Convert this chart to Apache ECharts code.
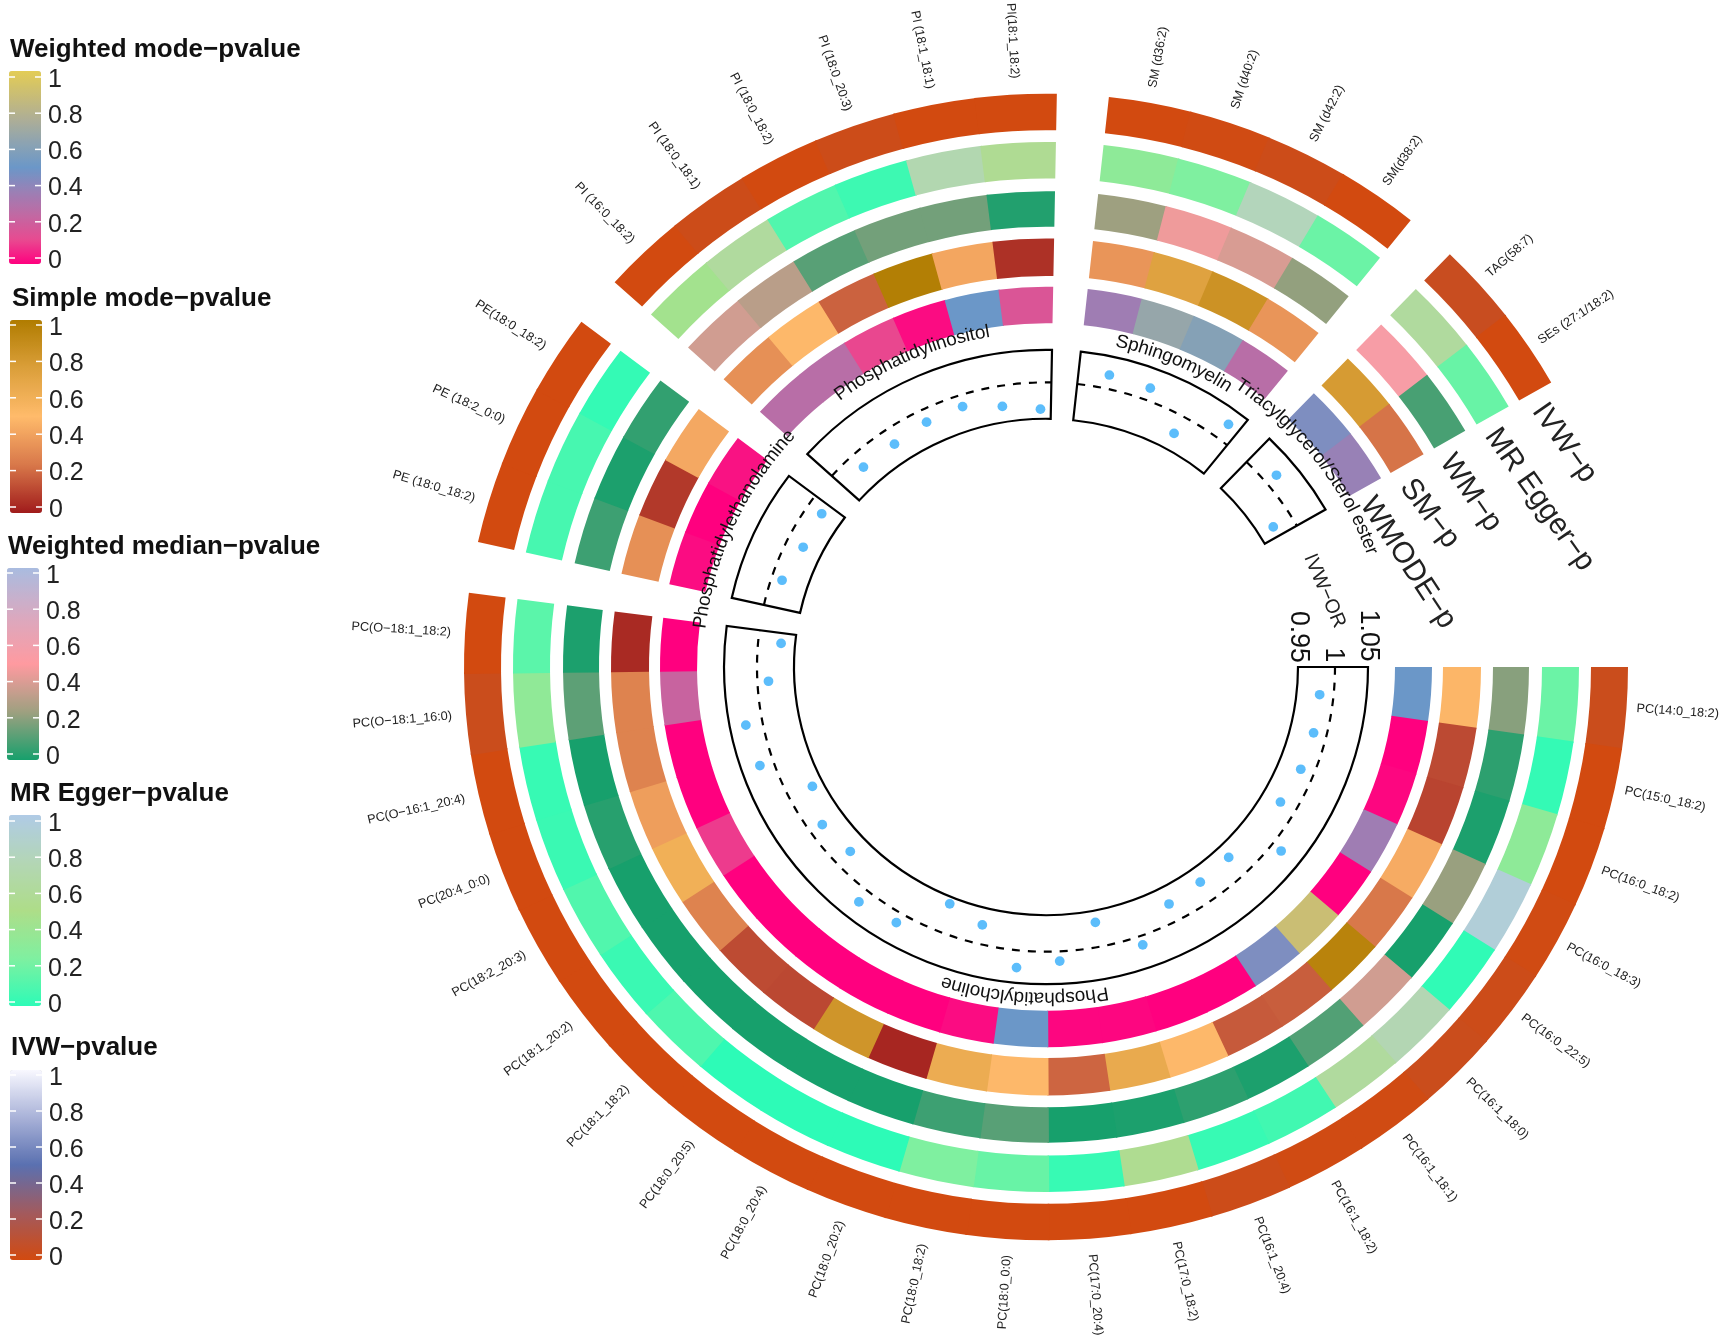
<!DOCTYPE html>
<html><head><meta charset="utf-8">
<style>html,body{margin:0;padding:0;background:#fff}#c{width:1725px;height:1337px}</style>
<script src="https://cdn.jsdelivr.net/npm/echarts@6/dist/echarts.min.js"></script>
</head><body><div id="c"></div>
<script>
// ---------- data ----------
const sectorNames = ['Phosphatidylcholine','Phosphatidylethanolamine','Phosphatidylinositol','Sphingomyelin','Triacylglycerol/Sterol ester'];
const pcLabels = ['PC(14:0_18:2)','PC(15:0_18:2)','PC(16:0_18:2)','PC(16:0_18:3)','PC(16:0_22:5)','PC(16:1_18:0)','PC(16:1_18:1)','PC(16:1_18:2)','PC(16:1_20:4)','PC(17:0_18:2)','PC(17:0_20:4)','PC(18:0_0:0)','PC(18:0_18:2)','PC(18:0_20:2)','PC(18:0_20:4)','PC(18:0_20:5)','PC(18:1_18:2)','PC(18:1_20:2)','PC(18:2_20:3)','PC(20:4_0:0)','PC(O\u221216:1_20:4)','PC(O\u221218:1_16:0)','PC(O\u221218:1_18:2)'];
const peLabels = ['PE (18:0_18:2)','PE (18:2_0:0)','PE(18:0_18:2)'];
const piLabels = ['PI (16:0_18:2)','PI (18:0_18:1)','PI (18:0_18:2)','PI (18:0_20:3)','PI (18:1_18:1)','PI(18:1_18:2)'];
const smLabels = ['SM (d36:2)','SM (d40:2)','SM (d42:2)','SM(d38:2)'];
const tagLabels = ['TAG(58:7)','SEs (27:1/18:2)'];
const wmodeP = [.5,0,.01,.36,0,.88,.45,0,0,.01,.01,.5,.02,0,0,0,0,0,.1,0,0,.23,0, .02,0,.03, .28,.28,.12,.02,.5,.17, .36,.66,.6,.28, .45,.38];
const smP = [.48,.125,.11,.44,.25,.95,.18,.17,.49,.65,.2,.49,.63,.03,.82,.12,.13,.29,.6,.39,.29,.29,.04, .34,.08,.43, .34,.49,.19,.98,.42,.06, .36,.72,.84,.36, .78,.24];
const wmP = [.21,.04,.01,.24,0,.38,.11,.01,.04,.01,0,.12,.07,0,0,0,0,0,0,.03,0,.13,.01, .07,.01,.05, .38,.32,.12,.17,.17,.02, .25,.46,.4,.23, .55,.09];
const eggerP = [.19,.02,.33,.93,.01,.74,.62,.06,.03,.55,.03,.18,.25,0,0,0,.1,.04,.11,.04,.03,.34,.14, .08,.08,.02, .44,.62,.11,.05,.72,.56, .33,.25,.78,.19, .62,.18];
const ivwP = [.04,0,0,.01,.03,.04,.01,.01,.03,0,0,0,0,0,0,0,0,0,0,0,0,.04,0, 0,0,0, 0,.03,0,.03,0,0, 0,.01,.03,0, .05,0];
const ivwOR = [.983,.984,.983,.978,1.019,.970,.972,.976,1.016,.967,1.017,1.028,.975,.960,1.018,1.023,.977,.983,.966,1.023,1.027,.987,.970, .9875,.978,.98, .98,.979,.984,.986,.973,.964, 1.023,1.021,.975,1.028, 1.021,.973];
const orTicks = [0.95,1,1.05];
const trackNames = ['IVW\u2212p','MR Egger\u2212p','WM\u2212p','SM\u2212p','WMODE\u2212p','IVW\u2212OR'];
const legendTitles = ['Weighted mode\u2212pvalue','Simple mode\u2212pvalue','Weighted median\u2212pvalue','MR Egger\u2212pvalue','IVW\u2212pvalue'];
const legendTicks = [0,0.2,0.4,0.6,0.8,1];

// ---------- layout and style ----------
const CX = 1046, CY = 667, SQUASH = 0.985;
const CELL_DEG = 8.15, GAP = 0.63, MAX_POS = 360 / CELL_DEG;
const groups = [pcLabels, peLabels, piLabels, smLabels, tagLabels];
const ringEdges = [[349,386],[397,435],[447,483],[496,533],[545,582]];
const ringValues = [wmodeP, smP, wmP, eggerP, ivwP];
const ramps = [
  ['#ff007f','#e84a90','#c268a2','#9a80b5','#6b97c8','#8ca3b2','#aeae96','#c9bd75','#e3cc55'],
  ['#a01b1b','#d8784a','#ffbb6b','#db9f3a','#b07c00'],
  ['#17a06c','#9ea080','#ff9aa0','#d9a9c0','#a9bce0'],
  ['#2dfbb7','#7ff0a0','#aedd88','#b3d6b5','#b0cbe6'],
  ['#d24a10','#a25a5e','#5a70b0','#a9b2d8','#f8f8ff']
];
// x, bar top, bar bottom, y of tick 1, y of tick 0, title x, title y
const legendBoxes = [
  [9,71,264,77,258,10,48],
  [10,320,513,325,507,12,297],
  [7,568,760,573,754,8,545],
  [9,815,1006,821,1002,10,792],
  [10,1070,1260,1075,1255,11,1046]
];
const BAR_W = 32;
const FONT = '"Liberation Sans", Arial, sans-serif';

// cell start positions in units of one cell
const positions = [], sectorSpans = [];
let cursor = 0;
groups.forEach(g => {
  const s = cursor;
  g.forEach(() => { positions.push(cursor); cursor += 1; });
  sectorSpans.push([s, cursor]);
  cursor += GAP;
});
const allLabels = groups.flat();

function wrap(children) {
  return {type:'group', originX:CX, originY:CY, scaleY:SQUASH, children};
}
function angleOf(pt) { return Math.atan2(pt[1]-CY, pt[0]-CX); }
function radiusOf(pt) { return Math.hypot(pt[0]-CX, pt[1]-CY); }
function sweep(a0, a1) { while (a1 <= a0) a1 += 2*Math.PI; return [a0, a1]; }
const spanEnds = new Set(sectorSpans.map(s => s[1]));

const series = [];
ringValues.forEach((vals, k) => {
  const [r0, r1] = ringEdges[k];
  series.push({
    type:'custom', coordinateSystem:'polar', polarIndex:0, silent:true,
    data: vals.map((p,i) => [r1, positions[i], p]),
    renderItem(params, api) {
      const pos = api.value(1);
      const color = api.visual('color');
      const [a0,a1] = sweep(angleOf(api.coord([r1,pos])), angleOf(api.coord([r1,pos+1])));
      // a hair of overlap hides the seam between neighbouring cells
      const over = spanEnds.has(pos+1) ? 0 : 0.003;
      return wrap([{type:'sector',
        shape:{cx:CX,cy:CY,r0,r:r1,startAngle:a0,endAngle:a1+over,clockwise:true},
        style:{fill:color}}]);
    }
  });
});

// IVW-OR track frames and the dashed line at OR = 1
series.push({
  type:'custom', coordinateSystem:'polar', polarIndex:1, silent:true,
  data: sectorSpans.map(s => [1, s[0], s[1]]),
  renderItem(params, api) {
    const s = api.value(1), e = api.value(2);
    const [a0,a1] = sweep(angleOf(api.coord([1,s])), angleOf(api.coord([1,e])));
    const rLow = radiusOf(api.coord([orTicks[0],s]));
    const rHigh = radiusOf(api.coord([orTicks[2],s]));
    const rOne = radiusOf(api.coord([api.value(0),s]));
    return wrap([
      {type:'sector',shape:{cx:CX,cy:CY,r0:rLow,r:rHigh,startAngle:a0,endAngle:a1,clockwise:true},
       style:{fill:'none',stroke:'#000',lineWidth:2.2}},
      {type:'arc',shape:{cx:CX,cy:CY,r:rOne+2,startAngle:a0,endAngle:a1,clockwise:true},
       style:{fill:'none',stroke:'#000',lineWidth:2.2,lineDash:[8,8]}}
    ]);
  }
});

// IVW-OR points
series.push({
  type:'custom', coordinateSystem:'polar', polarIndex:1, silent:true,
  data: ivwOR.map((v,i) => [v, positions[i]+0.72]),
  renderItem(params, api) {
    const pt = api.coord([api.value(0), api.value(1)]);
    return wrap([{type:'circle',shape:{cx:pt[0],cy:pt[1],r:4.9},style:{fill:'#5cbdfb'}}]);
  }
});

// cell labels
series.push({
  type:'custom', coordinateSystem:'polar', polarIndex:0, silent:true,
  data: allLabels.map((t,i) => [589, positions[i]+0.5]),
  renderItem(params, api) {
    const pt0 = api.coord([api.value(0), api.value(1)]);
    const th = angleOf(pt0), right = Math.cos(th) >= 0;
    const extra = 3 + 6*Math.sin(th)*Math.sin(th) + 4*Math.max(0,-Math.cos(th));
    const pt = api.coord([api.value(0)+extra, api.value(1)]);
    return wrap([{type:'text',x:pt[0],y:pt[1],rotation: right ? -th : Math.PI-th,
      style:{text:allLabels[params.dataIndex],font:'12.7px '+FONT,fill:'#222',
        align:right?'left':'right',verticalAlign:'middle'}}]);
  }
});

// sector names, set letter by letter along the arc
const measure = document.createElement('canvas').getContext('2d');
const NAME_FONT = '19px '+FONT;
measure.font = NAME_FONT;
const nameRadius = [336,348,345,338,346];
series.push({
  type:'custom', coordinateSystem:'polar', polarIndex:0, silent:true,
  data: sectorSpans.map((s,i) => [nameRadius[i], (s[0]+s[1])/2]),
  renderItem(params, api) {
    const pt = api.coord([api.value(0), api.value(1)]);
    const r = radiusOf(pt), mid = angleOf(pt), name = sectorNames[params.dataIndex];
    const widths = [...name].map(c => measure.measureText(c).width);
    const total = widths.reduce((a,b)=>a+b,0);
    let run = 0;
    const kids = [...name].map((c,i) => {
      const th = mid + (run + widths[i]/2 - total/2)/r;
      run += widths[i];
      return {type:'text',x:CX+r*Math.cos(th),y:CY+r*Math.sin(th),rotation:-(th+Math.PI/2),
        style:{text:c,font:NAME_FONT,fill:'#111',align:'center',verticalAlign:'middle'}};
    });
    return wrap(kids);
  }
});

// track names: radius, angle (deg), rotation (deg), size
const trackPlace = [[566,336.3,55,30],[522,341,55,30],[460,337.4,56,30],[414,337.9,53,30],[377,343.7,57,30],[289,344.5,67,20]];
series.push({
  type:'custom', coordinateSystem:'polar', polarIndex:0, silent:true,
  data: trackPlace.map(p => [p[0], p[1]/CELL_DEG]),
  renderItem(params, api) {
    const pt = api.coord([api.value(0), api.value(1)]);
    const p = trackPlace[params.dataIndex];
    return wrap([{type:'text',x:pt[0],y:pt[1],rotation:-p[2]*Math.PI/180,
      style:{text:trackNames[params.dataIndex],font:p[3]+'px '+FONT,fill:'#222',align:'center',verticalAlign:'middle'}}]);
  }
});

// OR axis tick labels
series.push({
  type:'custom', coordinateSystem:'polar', polarIndex:1, silent:true,
  data: orTicks.map(v => [v, MAX_POS-0.12]),
  renderItem(params, api) {
    const pt = api.coord([api.value(0), api.value(1)]);
    return wrap([{type:'text',x:pt[0],y:pt[1],rotation:-Math.PI/2,
      style:{text:String(orTicks[params.dataIndex]),font:'27px '+FONT,fill:'#111',align:'right',verticalAlign:'middle'}}]);
  }
});

// legends
const graphics = [];
legendBoxes.forEach((b,k) => {
  const [x,top,bottom,t1,t0,tx,ty] = b;
  graphics.push({type:'text',left:tx,top:ty-11,z:10,
    style:{text:legendTitles[k],font:'bold 26px '+FONT,fill:'#111'}});
  legendTicks.forEach(v => {
    const y = t0 + (t1-t0)*v;
    graphics.push({type:'text',x:x+39,y:y+3,z:10,
      style:{text:String(v),font:'25px '+FONT,fill:'#222',align:'left',verticalAlign:'middle'}});
    [[x,x+6],[x+BAR_W-6,x+BAR_W]].forEach(seg => graphics.push({type:'line',z:10,
      shape:{x1:seg[0],y1:y,x2:seg[1],y2:y},style:{stroke:'#fff',lineWidth:1.5}}));
  });
});

const chart = echarts.init(document.getElementById('c'));
chart.setOption({
  backgroundColor:'#fff', animation:false,
  polar:[{center:[CX,CY],radius:[0,600]},{center:[CX,CY],radius:[252,322]}],
  angleAxis:[0,1].map(i => ({polarIndex:i,type:'value',min:0,max:MAX_POS,startAngle:0,clockwise:true,show:false})),
  radiusAxis:[
    {polarIndex:0,type:'value',min:0,max:600,show:false},
    {polarIndex:1,type:'value',min:orTicks[0],max:orTicks[2],show:false}
  ],
  visualMap: ramps.map((colors,k) => ({
    type:'continuous',min:0,max:1,dimension:2,seriesIndex:k,calculable:false,hoverLink:false,
    left:legendBoxes[k][0],top:legendBoxes[k][1],padding:0,
    itemWidth:BAR_W,itemHeight:legendBoxes[k][2]-legendBoxes[k][1],
    inRange:{color:colors},text:null,showLabel:false
  })),
  series,
  graphic:graphics
});
</script></body></html>
